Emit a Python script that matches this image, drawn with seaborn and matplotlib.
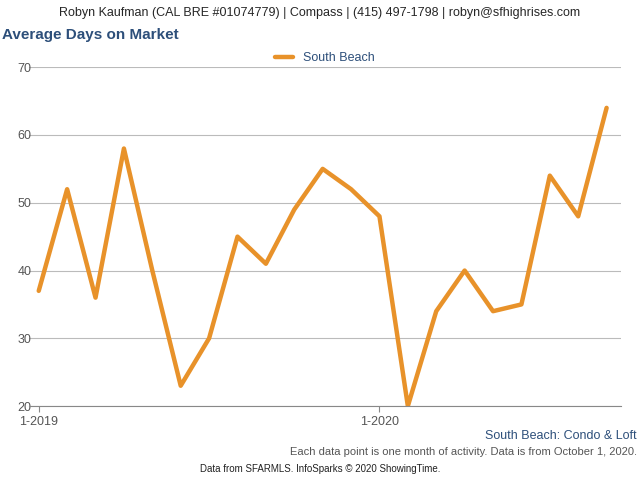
import matplotlib
matplotlib.use("Agg")
import matplotlib.pyplot as plt
import seaborn as sns
import pandas as pd

months = list(range(21))
days = [37, 52, 36, 58, 40, 23, 30, 45, 41, 49, 55, 52, 48, 20, 34, 40, 34, 35, 54, 48, 64]
tick_pos = [0, 12]
tick_labels = ["1-2019", "1-2020"]

sns.set_style("white")
plt.rcParams['font.family'] = ['Liberation Sans', 'DejaVu Sans']
df = pd.DataFrame({"m": months, "South Beach": days})

fig = plt.figure(figsize=(6.4, 4.8), dpi=100)
ax = fig.add_axes([0.045, 0.154, 0.925, 0.706])
sns.lineplot(data=df, x="m", y="South Beach", ax=ax, color="#E8922A", lw=3.2, label="South Beach")
ax.set_ylim(20, 70)
ax.set_xlim(-0.35, 20.5)
ax.set_yticks(range(20, 71, 10))
ax.set_xticks(tick_pos)
ax.set_xticklabels(tick_labels)
ax.grid(axis="y", color="#bbbbbb", lw=0.8)
for s in ["top", "right", "left"]:
    ax.spines[s].set_visible(False)
ax.spines["bottom"].set_color("#888888")
ax.tick_params(axis="x", length=4, color="#888888", labelsize=9, labelcolor="#555555", direction="out", bottom=True)
ax.tick_params(axis="y", length=0, labelsize=9, labelcolor="#555555", pad=-2)
ax.set_xlabel("")
ax.set_ylabel("")
ax.legend(loc="lower center", bbox_to_anchor=(0.5, 0.975), frameon=False, fontsize=9,
          labelcolor="#2D4F7A", handlelength=1.5)

fig.text(0.5, 0.985, "Robyn Kaufman (CAL BRE #01074779) | Compass | (415) 497-1798 | robyn@sfhighrises.com",
         ha="center", va="top", fontsize=9)
fig.text(0.003, 0.927, "Average Days on Market", ha="left", va="center", fontsize=11,
         fontweight="bold", color="#2D4F7A")
fig.text(0.995, 0.092, "South Beach: Condo & Loft", ha="right", va="center", fontsize=9, color="#2D4F7A")
fig.text(0.995, 0.058, "Each data point is one month of activity. Data is from October 1, 2020.",
         ha="right", va="center", fontsize=8, color="#555555")
fig.text(0.5, 0.022, "Data from SFARMLS. InfoSparks © 2020 ShowingTime.", ha="center", va="center",
         fontsize=7, color="#222222")
fig.savefig("out.png", dpi=100)
